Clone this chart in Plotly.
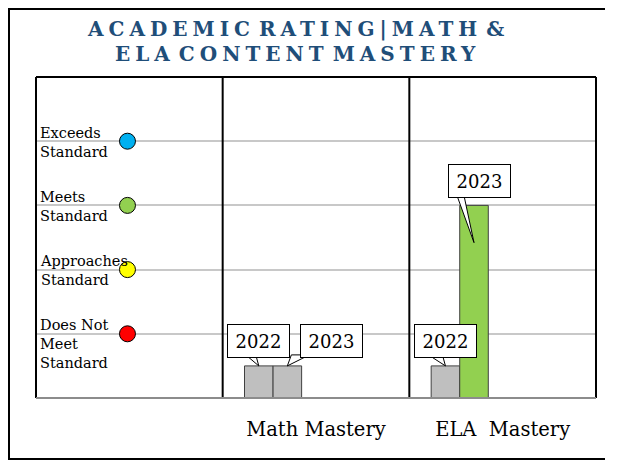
import plotly.graph_objects as go

# ---- data ----
subjects = ["Math Mastery", "ELA  Mastery"]
subject_pos = [1.5, 2.5]
years = ["2022", "2023"]
math_values = [0.5, 0.5]
ela_values = [0.5, 3.0]
bar_colors = {"2022": ["#BFBFBF", "#BFBFBF"], "2023": ["#BFBFBF", "#92D050"]}
level_names = ["Does Not<br>Meet<br>Standard", "Approaches<br>Standard",
               "Meets<br>Standard", "Exceeds<br>Standard"]
level_values = [1, 2, 3, 4]
level_colors = ["#FF0000", "#FFFF00", "#92D050", "#00B0F0"]
title_line1 = ["ACADEMIC", "RATING|MATH", "&"]
title_line2 = ["ELA", "CONTENT", "MASTERY"]

SERIF = "DejaVu Serif"
BAR_W = 0.153
BAR_OFF0 = 0.117
# callout style: (ax, ay, tip inset in y units, wedge base pixels relative to tip)
callout_style = {
    (0, "2022"): (0, -25, 0.0, (-13, -3, 8)),
    (0, "2023"): (44, -25, 0.0, (4, 22, 8)),
    (1, "2022"): (0, -25, 0.0, (-17, -3, 8)),
    (1, "2023"): (5, -62, 0.58, (-17, -10, 44)),
}

FW, FH = 613, 455
L, T, R, B = 28, 69, 25, 65
PW, PH = FW - L - R, FH - T - B


def px_to_paper(px, py):
    # page pixel (body offset 8px) -> paper coords
    fx, fy = px - 8, py - 8
    return (fx - L) / PW, (T + PH - fy) / PH


fig = go.Figure()

values_by_year = {y: [math_values[i], ela_values[i]] for i, y in enumerate(years)}
subject_idx = [1, 2]

for i, yr in enumerate(years):
    fig.add_trace(go.Bar(
        x=subject_idx, y=values_by_year[yr],
        offset=BAR_OFF0 + i * BAR_W, width=BAR_W,
        marker=dict(color=bar_colors[yr], line=dict(color="#404040", width=1)),
        showlegend=False, hoverinfo="skip",
    ))

# level dots
fig.add_trace(go.Scatter(
    x=[0.49] * len(level_values), y=level_values, mode="markers",
    marker=dict(size=16, color=level_colors, line=dict(color="black", width=1)),
    showlegend=False, hoverinfo="skip", cliponaxis=False,
))

annotations = []
shapes = []
# level labels
for name, v in zip(level_names, level_values):
    annotations.append(dict(
        x=0.01, y=v + 0.29, xref="x", yref="y", text=name, showarrow=False,
        xanchor="left", yanchor="top", align="left",
        font=dict(family=SERIF, size=14.5, color="black"),
    ))

# callouts
for i, yr in enumerate(years):
    for s in range(2):
        ax, ay, inset, (b0, b1, dy) = callout_style[(s, yr)]
        xc = subject_idx[s] + BAR_OFF0 + i * BAR_W + BAR_W / 2
        tip_y = values_by_year[yr][s] - inset
        shapes.append(dict(
            type="path", xref="x", yref="y", xsizemode="pixel", ysizemode="pixel",
            xanchor=xc, yanchor=tip_y,
            path=f"M0,0 L{b0},{dy + 3} L{b1},{dy + 3} Z",
            fillcolor="white", line=dict(color="black", width=1), layer="above",
        ))
        annotations.append(dict(
            x=xc, y=tip_y, xref="x", yref="y",
            text=yr, showarrow=True, arrowhead=0, arrowwidth=1, arrowcolor="rgba(0,0,0,0)",
            ax=ax, ay=ay, standoff=0, width=53, height=24,
            bgcolor="white", bordercolor="black", borderwidth=1, borderpad=4,
            font=dict(family=SERIF, size=18, color="black"),
        ))


def spaced(words, ls, sp):
    parts = [f'<span style="letter-spacing:{ls}px">{w}</span>' for w in words]
    return f'<span style="letter-spacing:{sp}px"> </span>'.join(parts)


x1p, y1p = px_to_paper(85, 29)
x2p, y2p = px_to_paper(113, 54)
annotations.append(dict(
    x=x1p, y=y1p, xref="paper", yref="paper", xanchor="left", yanchor="middle",
    text=spaced(title_line1, 5, -3), showarrow=False,
    font=dict(family=SERIF, size=20, color="#1F4E79", weight="bold"),
))
annotations.append(dict(
    x=x2p, y=y2p, xref="paper", yref="paper", xanchor="left", yanchor="middle",
    text=spaced(title_line2, 5, -3), showarrow=False,
    font=dict(family=SERIF, size=20, color="#1F4E79", weight="bold"),
))

ox0, oy0 = px_to_paper(9, 459)
ox1, oy1 = px_to_paper(605, 9)
shapes += [
    # outer border: left, top, bottom
    dict(type="path", xref="paper", yref="paper",
         path=f"M{ox1},{oy1} L{ox0},{oy1} L{ox0},{oy0} L{ox1},{oy0}",
         line=dict(color="black", width=2), layer="below"),
    # frame
    dict(type="line", xref="paper", yref="paper", x0=0, x1=0, y0=0, y1=1, line=dict(color="black", width=2)),
    dict(type="line", xref="paper", yref="paper", x0=1, x1=1, y0=0, y1=1, line=dict(color="black", width=2)),
    dict(type="line", xref="paper", yref="paper", x0=0, x1=1, y0=1, y1=1, line=dict(color="black", width=2)),
    dict(type="line", xref="x", yref="paper", x0=1, x1=1, y0=0, y1=1, line=dict(color="black", width=2)),
    dict(type="line", xref="x", yref="paper", x0=2, x1=2, y0=0, y1=1, line=dict(color="black", width=2)),
    dict(type="line", xref="paper", yref="paper", x0=0, x1=1, y0=0, y1=0, line=dict(color="#8C8C8C", width=2)),
]

fig.update_layout(
    width=FW, height=FH,
    margin=dict(l=L, r=R, t=T, b=B),
    paper_bgcolor="white", plot_bgcolor="white",
    barmode="overlay",
    annotations=annotations, shapes=shapes,
    xaxis=dict(range=[0, 3], tickmode="array", tickvals=subject_pos, ticktext=subjects,
               showgrid=False, zeroline=False, ticks="", ticklabelstandoff=17,
               tickfont=dict(family=SERIF, size=19.5, color="black"), fixedrange=True),
    yaxis=dict(range=[0, 5], tickvals=level_values, showticklabels=False,
               showgrid=True, gridcolor="#C8C8C8", gridwidth=2, zeroline=False, fixedrange=True),
)

fig.write_html("out.html")
